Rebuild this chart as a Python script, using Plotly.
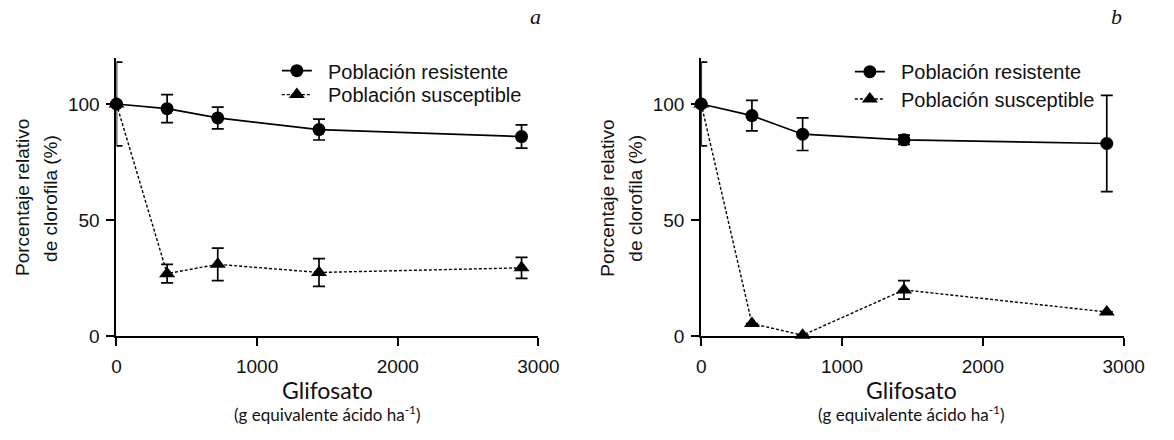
import plotly.graph_objects as go

# ---- data ----
dosis = [0, 360, 720, 1440, 2880]

res_a = [100, 98, 94, 89, 86]
res_a_err = [0, 6, 4.7, 4.5, 5]
sus_a = [100, 27, 31, 27.5, 29.5]
sus_a_err = [18, 4, 7, 6, 4.5]

res_b = [100, 95, 87, 84.6, 83]
res_b_err = [0, 6.6, 7, 2, 20.7]
sus_b = [100, 5.5, 0.5, 20, 10.5]
sus_b_err = [18, 0, 0, 4, 0]

name_res = "Población resistente"
name_sus = "Población susceptible"

y_ticks = [0, 50, 100]
x_ticks = [0, 1000, 2000, 3000]

W, H = 1174, 440

def px(x):
    return x / W

def py(y):
    return (H - y) / H

fig = go.Figure()
PAD = "&nbsp;&nbsp;"

def add_panel(res, res_err, sus, sus_err, xa, ya, leg_r, leg_s):
    fig.add_trace(go.Scatter(
        x=dosis, y=res, mode="lines+markers", name=PAD + name_res,
        xaxis=xa, yaxis=ya, legend=leg_r, cliponaxis=False,
        line=dict(color="black", width=1.7),
        marker=dict(symbol="circle", size=13, color="black"),
        error_y=dict(type="data", array=res_err, visible=True, color="black",
                     thickness=1.7, width=6),
    ))
    fig.add_trace(go.Scatter(
        x=dosis, y=sus, mode="lines+markers", name=PAD + name_sus,
        xaxis=xa, yaxis=ya, legend=leg_s, cliponaxis=False,
        line=dict(color="black", width=1.4, dash="3px,2px"),
        marker=dict(symbol="triangle-up", size=14, color="black"),
        error_y=dict(type="data", array=sus_err, visible=True, color="black",
                     thickness=1.7, width=6),
    ))

add_panel(res_a, res_a_err, sus_a, sus_a_err, "x", "y", "legend", "legend2")
add_panel(res_b, res_b_err, sus_b, sus_b_err, "x2", "y2", "legend3", "legend4")

tick_font = dict(family="Liberation Sans, Arial, sans-serif", size=19, color="#111")
xax = dict(range=[0, 3000], tickvals=x_ticks, showline=True, linecolor="black",
           linewidth=2, ticks="outside", ticklen=8, tickwidth=2,
           tickcolor="black", showgrid=False, zeroline=False,
           tickfont=tick_font, ticklabelstandoff=4)
yax = dict(range=[0, 120], tickvals=y_ticks, showline=True, linecolor="black",
           linewidth=2, ticks="outside", ticklen=8, tickwidth=2,
           tickcolor="black", showgrid=False, zeroline=False,
           tickfont=tick_font, ticklabelstandoff=3)

leg_font = dict(family="Liberation Sans, Arial, sans-serif", size=20, color="#111")

def leg(xpix, ypix):
    return dict(x=px(xpix), y=py(ypix), xanchor="left", yanchor="middle",
                bgcolor="rgba(0,0,0,0)", font=leg_font, itemwidth=30)

y0, y1 = py(345), py(59)
fig.update_layout(
    width=W, height=H, margin=dict(l=0, r=0, t=0, b=0),
    paper_bgcolor="white", plot_bgcolor="white",
    xaxis=dict(domain=[px(114), px(545.5)], anchor="y", **xax),
    yaxis=dict(domain=[y0, y1], anchor="x", **yax),
    xaxis2=dict(domain=[px(712), px(1144)], anchor="y2", **xax),
    yaxis2=dict(domain=[y0, y1], anchor="x2", **yax),
    legend=leg(278, 72.5),
    legend2=leg(278, 97),
    legend3=leg(864, 73.5),
    legend4=leg(864, 101.5),
    showlegend=True,
)

ann = []
ttl_font = dict(family="Liberation Sans, Arial, sans-serif", size=19, color="#111")
for xc in (18.5, 616.5):
    ann.append(dict(x=px(xc), y=py(203), text="Porcentaje relativo", textangle=-90,
                    font=ttl_font))
    ann.append(dict(x=px(xc + 28.5), y=py(203), text="de clorofila (%)", textangle=-90,
                    font=ttl_font))
for xc in (330, 927):
    ann.append(dict(x=px(xc), y=py(400), text="Glifosato",
                    font=dict(family="Lato, Open Sans, sans-serif", size=23, color="#111")))
    ann.append(dict(x=px(xc), y=py(424), text="(g equivalente ácido ha<sup>-1</sup>)",
                    font=dict(family="Lato, Open Sans, sans-serif", size=17, color="#111")))
ann.append(dict(x=px(543), y=py(17), text="<i>a</i>",
                font=dict(family="Liberation Serif, serif", size=22, color="#111")))
ann.append(dict(x=px(1137), y=py(17), text="<i>b</i>",
                font=dict(family="Liberation Serif, serif", size=22, color="#111")))
for a in ann:
    a.update(xref="paper", yref="paper", showarrow=False, xanchor="center",
             yanchor="middle", align="center")
fig.update_layout(annotations=ann)

fig.write_html("out.html")
